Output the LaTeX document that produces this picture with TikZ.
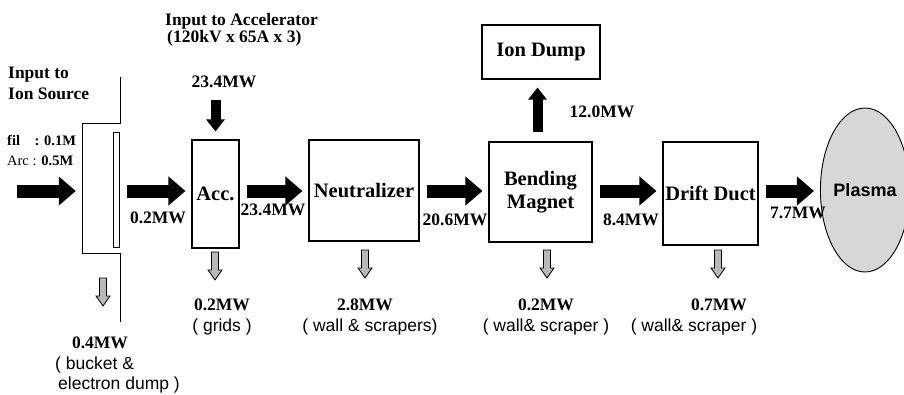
\documentclass[tikz,border=0pt]{standalone}
\usepackage{fontspec}
\setmainfont{Liberation Serif}
\setsansfont{Liberation Sans}
\usetikzlibrary{arrows.meta,positioning,shapes.geometric,calc}
\definecolor{nbLoss}  {RGB}{185,185,185}
\definecolor{nbPlasma}{RGB}{215,215,215}
\newcommand{\ValFont}{\fontsize{17.5}{17}\selectfont\bfseries}
\newcommand{\BoxFont}{\fontsize{20.5}{23.5}\selectfont\bfseries}
\newcommand{\NoteFont}{\fontsize{17.5}{20}\selectfont\sffamily}

\begin{document}
\begin{tikzpicture}[x=1pt,y=-1pt,
    every node/.style={inner sep=0pt,align=center},
    unit/.style={draw,line width=1.1pt,font=\BoxFont},
    val/.style={font=\ValFont},
    note/.style={font=\NoteFont},
    beam/.style={line width=13pt,-{Triangle[length=17pt,width=28pt]},
                 shorten <=7pt,shorten >=6pt},
    feed/.style={line width=10pt,-{Triangle[length=12pt,width=18pt]}},
    plasma/.style={ellipse,draw,line width=0.9pt,fill=nbPlasma,
                   font=\fontsize{18}{20}\selectfont\sffamily\bfseries},
    pics/loss/.style={code={
      \filldraw[fill=nbLoss,draw=black,line width=0.8pt]
        (-3.5,0) -- (3.5,0) -- (3.5,18) -- (7,18) -- (0,28)
        -- (-7,18) -- (-3.5,18) -- cycle;}}
  ]
  \useasboundingbox (0,0) rectangle (904,394);
  \coordinate (axis) at (0,191);
  % Ion source
  \node[minimum width=38pt,minimum height=130pt] (src) at (101,188) {};
  \draw[line width=1pt] (120,77) -- (120,123) -- (82,123) -- (82,253)
    -- (120,253) -- (120,322);
  \node[draw,line width=0.9pt,minimum width=6pt,minimum height=115pt]
    (grid) at (116,189.5) {};
  \node[anchor=north west,align=left,font=\fontsize{17.5}{21}\selectfont\bfseries]
    (srclbl) at (8,67) {Input to\\Ion Source};
  \node[anchor=base west,font=\fontsize{14.5}{16}\selectfont]
    (fil) at (7,145) {\textbf{fil}\quad\textbf{: 0.1M}};
  \node[anchor=base west,font=\fontsize{14.5}{16}\selectfont]
    (arc) at (7,165) {Arc : \textbf{0.5M}};
  \coordinate (srcin) at (10,191);
  \draw[beam] (srcin) -- (src.west |- axis);
  % Units
  \node[unit,minimum width=47pt,minimum height=108pt]  (acc)   at (215.5,194) {Acc.};
  \node[unit,minimum width=110pt,minimum height=101pt] (neut)  at (364,190.5) {Neutralizer};
  \node[unit,minimum width=103pt,minimum height=100pt] (bend)  at (540.5,192) {Bending\\Magnet};
  \node[unit,minimum width=95pt,minimum height=103pt]  (drift) at (710.5,193.5) {Drift Duct};
  \node[unit,minimum width=118pt,minimum height=54pt]  (dump)  at (541,52) {Ion Dump};
  \node[plasma,minimum width=76pt,minimum height=164pt] (plasma) at (865,190) {Plasma};
  % Beam
  \draw[beam] (src.east |- axis)   -- (acc.west |- axis);
  \draw[beam] (acc.east |- axis)   -- (neut.west |- axis);
  \draw[beam] (neut.east |- axis)  -- (bend.west |- axis);
  \draw[beam] (bend.east |- axis)  -- (drift.west |- axis);
  \draw[beam] (drift.east |- axis) -- (plasma.west |- axis);
  \node[val] (p0) at (158,218) {0.2MW};
  \node[val] (p1) at (273,210) {23.4MW};
  \node[val] (p2) at (455,220) {20.6MW};
  \node[val] (p3) at (631,220) {8.4MW};
  \node[val] (p4) at (798,213) {7.7MW};
  % Accelerator input
  \node[anchor=north west,align=left,font=\ValFont]
    (acclbl) at (165,13) {Input to Accelerator\\\hspace*{2pt}(120kV x 65A x 3)};
  \node[val] (accin) at (224,82) {23.4MW};
  \draw[feed,shorten <=12pt,shorten >=8pt] (accin.south -| acc.north) -- (acc.north);
  % Ion dump
  \draw[feed,shorten <=9pt,shorten >=8pt] ([xshift=-3pt]bend.north)
    -- ([xshift=-3pt]bend.north |- dump.south);
  \node[val] (pdump) at (602,112) {12.0MW};
  % Losses
  \pic at (103,278) {loss};
  \node[val] (l0) at (100,343) {0.4MW};
  \node[note,anchor=west,align=left] (n0) at (55,375)
    {( bucket \&\\\hspace*{3pt}electron dump )};
  \pic at (215,252) {loss};
  \node[val]  (l1) at (222,305) {0.2MW};
  \node[note] (n1) at (222,327) {( grids )};
  \pic at (365,250) {loss};
  \node[val]  (l2) at (365,305) {2.8MW};
  \node[note] (n2) at (370,327) {( wall \& scrapers)};
  \pic at (547,250) {loss};
  \node[val]  (l3) at (546,305) {0.2MW};
  \node[note] (n3) at (546,327) {( wall\& scraper )};
  \pic at (718,250) {loss};
  \node[val]  (l4) at (719,305) {0.7MW};
  \node[note] (n4) at (694,327) {( wall\& scraper )};
\end{tikzpicture}
\end{document}
